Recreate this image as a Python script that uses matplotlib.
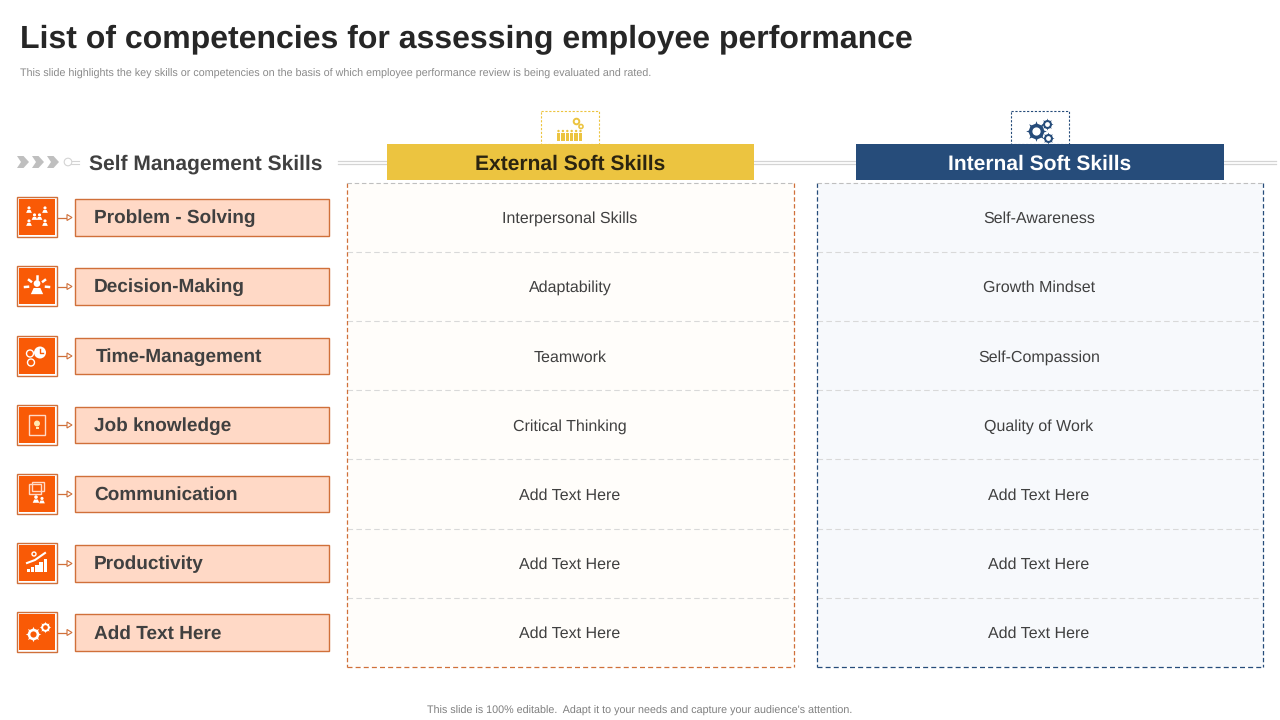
import matplotlib
matplotlib.use('Agg')
import matplotlib.pyplot as plt
from matplotlib.patches import Rectangle, Circle, Polygon

plt.rcParams['font.family'] = ['Liberation Sans', 'DejaVu Sans']
plt.rcParams['text.hinting'] = 'no_hinting'

title = 'List of competencies for assessing employee performance'
subtitle = 'This slide highlights the key skills or competencies on the basis of which employee performance review is being evaluated and rated.'
footer = "This slide is 100% editable.  Adapt it to your needs and capture your audience's attention."

left_heading = 'Self Management Skills'
external_heading = 'External Soft Skills'
internal_heading = 'Internal Soft Skills'

self_management = ['Problem - Solving', 'Decision-Making', 'Time-Management', 'Job knowledge',
                   'Communication', 'Productivity', 'Add Text Here']
external_skills = ['Interpersonal Skills', 'Adaptability', 'Teamwork', 'Critical Thinking',
                   'Add Text Here', 'Add Text Here', 'Add Text Here']
internal_skills = ['Self-Awareness', 'Growth Mindset', 'Self-Compassion', 'Quality of Work',
                   'Add Text Here', 'Add Text Here', 'Add Text Here']

row_y = [217.5, 286.5, 356, 425, 494, 563.5, 632.5]
row_lines = [252, 321, 390, 459, 528.5, 598]

ORANGE = '#F95A06'
EDGE = '#D0703A'
PEACH = '#FFD9C6'
YELLOW = '#ECC440'
NAVY = '#264C7A'
DARK = '#404040'

fig = plt.figure(figsize=(12.8, 7.2), dpi=100)
ax = fig.add_axes([0, 0, 1, 1])
ax.set_xlim(0, 1280)
ax.set_ylim(720, 0)
ax.axis('off')


def rect(x0, y0, x1, y1, **kw):
    r = Rectangle((x0, y0), x1 - x0, y1 - y0, **kw)
    ax.add_patch(r)
    return r


def gear(x, y, size, color, hole):
    ax.scatter([x], [y], s=size, marker=(8, 1, 0), color=color, linewidths=0, zorder=6)
    ax.scatter([x], [y], s=size * 0.55, marker='o', color=color, linewidths=0, zorder=6)
    ax.scatter([x], [y], s=size * 0.16, marker='o', color=hole, linewidths=0, zorder=7)


def person(x, y, scale, color):
    ax.add_patch(Circle((x, y - 1.6 * scale), 1.2 * scale, color=color, lw=0, zorder=6))
    ax.add_patch(Polygon([(x - 2.2 * scale, y + 2.2 * scale), (x - 1.2 * scale, y),
                          (x + 1.2 * scale, y), (x + 2.2 * scale, y + 2.2 * scale)],
                         color=color, lw=0, zorder=6))


def draw_icon(i, cx, cy):
    w = 'white'
    if i == 0:
        for dx, dy in [(-8, -7), (8, -7), (-8, 6), (8, 6)]:
            person(cx + dx, cy + dy, 1.3, w)
        person(cx - 2.5, cy, 1.3, w)
        person(cx + 2.5, cy, 1.3, w)
    elif i == 1:
        person(cx, cy + 2, 2.8, w)
        for dx, dy in [(-12, 1), (-8, -6), (0, -10), (8, -6), (12, 1)]:
            ax.plot([cx + dx * 0.75, cx + dx], [cy + dy * 0.75, cy + dy], color=w, lw=1.8, zorder=6)
    elif i == 2:
        ax.add_patch(Circle((cx + 3, cy - 3), 6, color=w, lw=0, zorder=6))
        ax.plot([cx + 3, cx + 3, cx + 6], [cy - 7, cy - 3, cy - 3], color=ORANGE, lw=1, zorder=7)
        ax.add_patch(Circle((cx - 7, cy - 2), 3.5, fc='none', ec=w, lw=1, zorder=6))
        ax.add_patch(Circle((cx - 6, cy + 7), 3.5, fc='none', ec=w, lw=1, zorder=6))
    elif i == 3:
        rect(cx - 8, cy - 10, cx + 8, cy + 10, fc='none', ec='#FFD9C6', lw=1, zorder=6)
        ax.add_patch(Circle((cx, cy - 1), 3, color='#FFE9B0', lw=0, zorder=6))
        rect(cx - 1.5, cy + 2, cx + 1.5, cy + 4, color='#FFE9B0', lw=0, zorder=6)
    elif i == 4:
        rect(cx - 8, cy - 10, cx + 4, cy, fc='none', ec='#FFD9C6', lw=1, zorder=6)
        rect(cx - 5, cy - 12, cx + 7, cy - 3, fc='none', ec='#FFD9C6', lw=1, zorder=6)
        person(cx - 1, cy + 6, 1.5, w)
        person(cx + 5, cy + 7, 1.3, w)
    elif i == 5:
        for k, h in enumerate([3, 5, 7, 10, 13]):
            rect(cx - 10.5 + k * 4.3, cy + 9 - h, cx - 7 + k * 4.3, cy + 9, color=w, lw=0, zorder=6)
        ax.plot([cx - 10, cx - 2, cx + 8], [cy, cy - 3, cy - 10], color=w, lw=1.5, zorder=6)
        ax.add_patch(Circle((cx - 3, cy - 9), 2, fc='none', ec=w, lw=1, zorder=6))
    else:
        gear(cx - 4, cy + 2, 125, w, ORANGE)
        gear(cx + 8, cy - 5, 70, w, ORANGE)


# heading
ax.text(20, 39, title, fontsize=23, fontweight='bold', color='#262626', va='center', ha='left')
ax.text(20, 73.5, subtitle, fontsize=7.75, color='#8A8A8A', va='center', ha='left')
ax.text(639.5, 710.5, footer, fontsize=7.72, color='#7F7F7F', va='center', ha='center')

# double rule behind the headers
for y in [160.5, 164]:
    ax.plot([338, 1276], [y, y], color='#D4D4D4', lw=0.9, zorder=1)

# chevrons and small key on the left heading
for x0 in [17, 32, 47]:
    ax.add_patch(Polygon([(x0, 156), (x0 + 6.5, 156), (x0 + 12, 162), (x0 + 6.5, 168), (x0, 168), (x0 + 4, 162)],
                         color='#BFBFBF', lw=0, zorder=2))
ax.add_patch(Circle((68, 162), 3.8, fc='white', ec='#D4D4D4', lw=0.8, zorder=2))
for y in [160.5, 163.5]:
    ax.plot([71, 79], [y, y], color='#D4D4D4', lw=0.8, zorder=1)
ax.text(89, 164, left_heading, fontsize=15.1, fontweight='bold', color=DARK, va='center', ha='left')

# left column
text_x = [94.5, 94, 95.5, 94.5, 94, 94, 94]
for i, y in enumerate(row_y):
    rect(17, y - 20.5, 57, y + 19.5, fc='white', ec=EDGE, lw=1, zorder=3)
    rect(19, y - 18.5, 55, y + 17.5, fc=ORANGE, lw=0, zorder=4)
    draw_icon(i, 37, y - 0.5)
    ax.plot([58, 68], [y, y], color=EDGE, lw=0.9, zorder=3)
    ax.add_patch(Polygon([(67, y - 3), (72, y), (67, y + 3)], fc='white', ec=EDGE, lw=0.8, zorder=4))
    rect(75, y - 18.5, 329, y + 18, fc=PEACH, ec=EDGE, lw=1, zorder=3)
    ax.text(text_x[i], y + 1, self_management[i], fontsize=13.7, fontweight='bold', color=DARK, va='center', ha='left', zorder=5)

# the two table panels
panels = [(347, 794, '#FFFDFA', EDGE, external_skills, 570),
          (817, 1263, '#F7F9FC', NAVY, internal_skills, 1039)]
for x0, x1, fill, edge, labels, cx in panels:
    rect(x0, 182.5, x1, 667, fc=fill, lw=0, zorder=1)
    ax.plot([x0, x0], [182.5, 667], color=edge, lw=0.9, ls=(0, (3.5, 2)), zorder=3)
    ax.plot([x1, x1], [182.5, 667], color=edge, lw=0.9, ls=(0, (3.5, 2)), zorder=3)
    ax.plot([x0, x1], [182.5, 182.5], color='#BFBFBF', lw=0.8, ls=(0, (4, 2.5)), zorder=3)
    ax.plot([x0, x1], [667, 667], color=edge, lw=0.9, ls=(0, (4, 2.5)), zorder=3)
    for y in row_lines:
        ax.plot([x0, x1], [y, y], color='#D9D9D9', lw=0.8, ls=(0, (5, 3)), zorder=2)
    for y, label in zip(row_y, labels):
        ax.text(cx, y + 1.5, label, fontsize=11.5, color=DARK, va='center', ha='center', zorder=5)

# external header + icon
rect(541, 111, 599, 144, fc='white', ec=YELLOW, lw=0.8, ls=(0, (2, 1.5)), zorder=2)
for k in range(6):
    px = 558.5 + k * 4.4
    ax.add_patch(Circle((px, 131), 1.2, color=YELLOW, lw=0, zorder=6))
    rect(px - 1.7, 133, px + 1.7, 140.5, color=YELLOW, lw=0, zorder=6)
ax.add_patch(Circle((576.5, 121.5), 2.8, fc='white', ec=YELLOW, lw=1.4, zorder=6))
ax.add_patch(Circle((581, 126.5), 2, fc='white', ec=YELLOW, lw=1.2, zorder=6))
rect(387, 144, 754, 180, fc=YELLOW, lw=0, zorder=4)
ax.text(570.5, 164, external_heading, fontsize=15.1, fontweight='bold', color='#2B2410', va='center', ha='center', zorder=5)

# internal header + icon
rect(1011, 111, 1069, 144, fc='white', ec=NAVY, lw=0.8, ls=(0, (2, 1.5)), zorder=2)
gear(1036, 131, 220, NAVY, 'white')
gear(1047, 123.5, 75, NAVY, 'white')
gear(1048, 138, 75, NAVY, 'white')
rect(856, 144, 1224, 180, fc=NAVY, lw=0, zorder=4)
ax.text(1039.5, 164, internal_heading, fontsize=15.1, fontweight='bold', color='white', va='center', ha='center', zorder=5)

fig.savefig('out.png', dpi=100, facecolor='white')
